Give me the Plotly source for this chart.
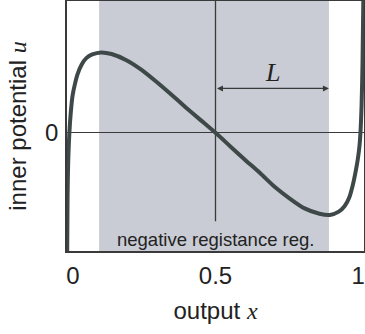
import plotly.graph_objects as go

# curve: output x vs inner potential u (u scaled so the extremes are ~±1)
x_out = [0.0005, 0.002, 0.004, 0.008, 0.013, 0.019, 0.027, 0.035, 0.049, 0.065, 0.085, 0.115,
         0.15, 0.2, 0.25, 0.3, 0.35, 0.4, 0.45, 0.5, 0.55, 0.6, 0.65, 0.7, 0.75, 0.8, 0.85,
         0.885, 0.915, 0.935, 0.95, 0.962, 0.972, 0.98, 0.985, 0.988, 0.992, 0.995, 0.998]
u_in = [-1.5, -0.75, -0.36, 0.0, 0.26, 0.46, 0.6, 0.71, 0.83, 0.91, 0.955, 0.98,
        0.96, 0.885, 0.77, 0.625, 0.47, 0.31, 0.155, 0.0, -0.165, -0.33, -0.49, -0.66, -0.8, -0.92, -0.985,
        -1.0, -0.96, -0.89, -0.79, -0.64, -0.47, -0.3, -0.15, 0.0, 0.35, 0.85, 1.7]

neg_region = [0.108, 0.882]          # negative registance region (x)
L_span = [0.5, 0.882]                # arrow "L"
L_level = 0.541
vline_bottom = -1.077

# tick label positions as they sit in the picture
x_ticks = [0.02, 0.5, 0.98]
x_ticktext = ["0", "0.5", "1"]
y_ticks = [0]
y_ticktext = ["0"]

y_range = [-1.439, 1.606]

FONT = "Liberation Sans, Arial, sans-serif"
SERIF = "Liberation Serif, Times New Roman, serif"
DARK = "#3a3a3a"

fig = go.Figure()
fig.add_trace(go.Scatter(
    x=x_out, y=u_in, mode="lines",
    line=dict(color="#3f4848", width=4, shape="spline", smoothing=0.8),
    hoverinfo="skip", showlegend=False))

fig.add_shape(type="rect", xref="x", yref="paper", x0=neg_region[0], x1=neg_region[1],
              y0=0, y1=1, fillcolor="#c9ccd4", line=dict(width=0), layer="below")
fig.add_shape(type="line", xref="x", yref="y", x0=0.5, x1=0.5, y0=vline_bottom, y1=y_range[1],
              line=dict(color=DARK, width=1.3), layer="below")

fig.add_annotation(x=L_span[1], y=L_level, ax=L_span[0], ay=L_level, axref="x", ayref="y",
                   xref="x", yref="y", text="", showarrow=True, arrowhead=2, arrowside="end+start",
                   arrowsize=1, arrowwidth=1.2, arrowcolor=DARK)
fig.add_annotation(x=(L_span[0] + L_span[1]) / 2, y=0.73, xref="x", yref="y", text="<i>L</i>",
                   showarrow=False, font=dict(family=SERIF, size=26, color="#222"))
fig.add_annotation(x=0.5, y=-1.296, xref="x", yref="y", text="negative registance reg.",
                   showarrow=False, font=dict(family=FONT, size=18.5, color="#222"))

fig.update_layout(
    width=365, height=334,
    margin=dict(l=67, r=1, t=1, b=83),
    paper_bgcolor="white", plot_bgcolor="white",
    font=dict(family=FONT, color="#222"),
    xaxis=dict(range=[0, 1], tickvals=x_ticks, ticktext=x_ticktext, showgrid=False,
               zeroline=False, showline=True, mirror=True, linecolor=DARK, linewidth=1.5,
               ticks="", tickfont=dict(size=24, family=FONT), ticklabelstandoff=2,
               ticklabeloverflow="allow", automargin=False,
               title=dict(text="output <span style='font-family:Liberation Serif'><i>x</i></span>",
                          font=dict(size=24, family=FONT), standoff=15)),
    yaxis=dict(range=y_range, tickvals=y_ticks, ticktext=y_ticktext, showgrid=False,
               zeroline=True, zerolinecolor=DARK, zerolinewidth=1.3,
               showline=True, mirror=True, linecolor=DARK, linewidth=1.5,
               ticks="", tickfont=dict(size=24, family=FONT), ticklabelstandoff=2,
               automargin=False,
               title=dict(text="inner potential <span style='font-family:Liberation Serif'><i>u</i></span>",
                          font=dict(size=24, family=FONT), standoff=12)),
)

fig.write_html("out.html", config={"displayModeBar": False},
               post_script="document.body.style.margin='0';document.body.style.padding='0';")
